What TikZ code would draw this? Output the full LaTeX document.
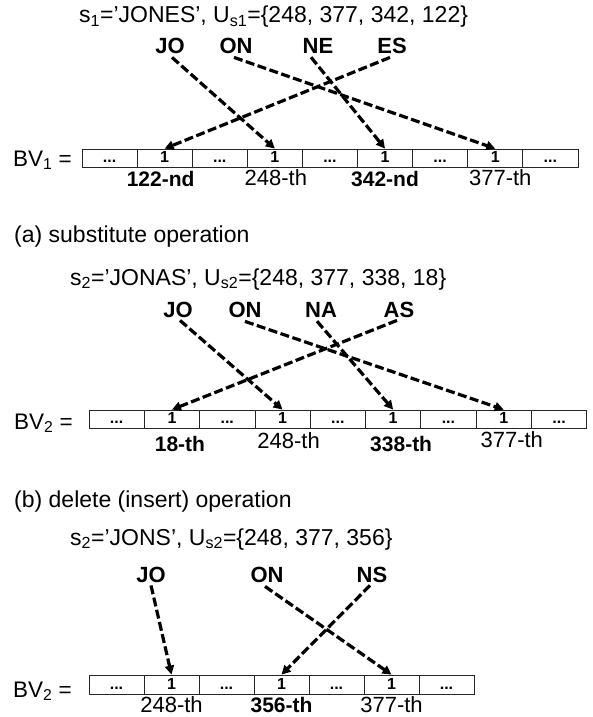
\documentclass[tikz,border=0pt]{standalone}
\usepackage{fontspec}
\setmainfont{Liberation Sans}
\usetikzlibrary{arrows.meta,calc}
\newcommand{\celldots}{...}
\begin{document}
\begin{tikzpicture}[x=1pt,y=-1pt,
  txt/.style={inner sep=0pt, anchor=base west, font=\fontsize{23}{27}\selectfont},
  bvlbl/.style={inner sep=0pt, anchor=base west, font=\fontsize{22.5}{26}\selectfont},
  big/.style={inner sep=0pt, anchor=base, font=\fontsize{22}{26}\selectfont\bfseries},
  poslbl/.style={inner sep=0pt, anchor=base, font=\fontsize{22}{26}\selectfont},
  poslblb/.style={inner sep=0pt, anchor=base, font=\fontsize{21}{25}\selectfont\bfseries},
  cellbox/.style={draw=black!85, line width=0.8pt, minimum height=18pt, inner sep=0pt,
    text height=11.5pt, text depth=2.5pt, font=\fontsize{16}{19}\selectfont\bfseries},
  arr/.style={line width=3.2pt, dash pattern=on 9pt off 3.5pt, -{Triangle[length=9pt,width=9pt]}}
]
\useasboundingbox (0,0) rectangle (593,717);
\fill[white] (0,0) rectangle (593,717);

% ---------- panel 1 ----------
\node[txt] (t1) at (79,23) {s\textsubscript{1}=’JONES’, U\textsubscript{s1}=\{248, 377, 342, 122\}};
\node[big] (jo1) at (170,53) {JO};
\node[big] (on1) at (236,53) {ON};
\node[big] (ne1) at (318,53) {NE};
\node[big] (es1) at (392,53) {ES};
\node[bvlbl] (bv1) at (13,166) {BV\textsubscript{1} =};
\foreach \k/\t in {1/\celldots,2/1,3/\celldots,4/1,5/\celldots,6/1,7/\celldots,8/1,9/\celldots}
  \node[cellbox, minimum width=55.1pt] (a\k) at ({82+55.1*(\k-0.5)},158) {\t};
\node[poslblb] (l11) at ($(a2.center |- 0,186)+(-4,0)$) {122-nd};
\node[poslbl]  (l12) at ($(a4.center |- 0,185)+(1,0)$) {248-th};
\node[poslblb] (l13) at (a6.center |- 0,186) {342-nd};
\node[poslbl]  (l14) at ($(a8.center |- 0,185)+(5,0)$) {377-th};
\draw[arr] ([xshift=2pt,yshift=-4pt]jo1.south) -- (a4.north);
\draw[arr] ([xshift=-2pt,yshift=-4pt]on1.south) -- (a8.north);
\draw[arr] ([xshift=-7pt,yshift=-4pt]ne1.south) -- (a6.north);
\draw[arr] ([xshift=-2pt,yshift=-4pt]es1.south) -- (a2.north);

% ---------- panel 2 ----------
\node[txt] (ca) at (14,242) {(a) substitute operation};
\node[txt] (t2) at (70,285) {s\textsubscript{2}=’JONAS’, U\textsubscript{s2}=\{248, 377, 338, 18\}};
\node[big] (jo2) at (178,317) {JO};
\node[big] (on2) at (245,317) {ON};
\node[big] (na2) at (321,317) {NA};
\node[big] (as2) at (399,317) {AS};
\node[bvlbl] (bv2) at (14,429) {BV\textsubscript{2} =};
\foreach \k/\t in {1/\celldots,2/1,3/\celldots,4/1,5/\celldots,6/1,7/\celldots,8/1,9/\celldots}
  \node[cellbox, minimum width=55.3pt] (b\k) at ({89+55.3*(\k-0.5)},419) {\t};
\node[poslblb] (l21) at ($(b2.center |- 0,451)+(8,0)$) {18-th};
\node[poslbl]  (l22) at ($(b4.center |- 0,448)+(6,0)$) {248-th};
\node[poslblb] (l23) at ($(b6.center |- 0,451)+(8,0)$) {338-th};
\node[poslbl]  (l24) at ($(b8.center |- 0,447)+(8,0)$) {377-th};
\draw[arr] ([xshift=2pt,yshift=-3pt]jo2.south) -- (b4.north);
\draw[arr] ([xshift=0pt,yshift=-4pt]on2.south) -- (b8.north);
\draw[arr] ([xshift=-4pt,yshift=-4pt]na2.south) -- (b6.north);
\draw[arr] ([xshift=-2pt,yshift=-3pt]as2.south) -- (b2.north);

% ---------- panel 3 ----------
\node[txt] (cb) at (14,507) {(b) delete (insert) operation};
\node[txt] (t3) at (70,545) {s\textsubscript{2}=’JONS’, U\textsubscript{s2}=\{248, 377, 356\}};
\node[big] (jo3) at (151,582) {JO};
\node[big] (on3) at (267,582) {ON};
\node[big] (ns3) at (372,582) {NS};
\node[bvlbl] (bv3) at (13,697) {BV\textsubscript{2} =};
\foreach \k/\t in {1/\celldots,2/1,3/\celldots,4/1,5/\celldots,6/1,7/\celldots}
  \node[cellbox, minimum width=55pt, minimum height=19pt] (c\k) at ({89+55*(\k-0.5)},684.5) {\t};
\node[poslbl]  (l31) at (c2.center |- 0,712) {248-th};
\node[poslblb] (l32) at (c4.center |- 0,712) {356-th};
\node[poslbl]  (l33) at (c6.center |- 0,712) {377-th};
\draw[arr] ([yshift=-3pt]jo3.south) -- (c2.north);
\draw[arr] ([xshift=-2pt,yshift=-4pt]on3.south) -- (c6.north);
\draw[arr] ([xshift=-2pt,yshift=-3pt]ns3.south) -- (c4.north);
\end{tikzpicture}
\end{document}
